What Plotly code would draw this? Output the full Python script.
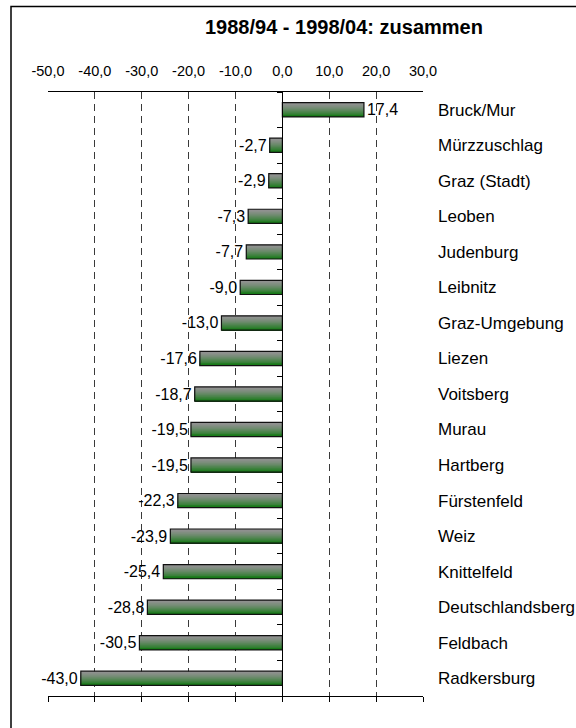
import plotly.graph_objects as go

categories = ["Bruck/Mur", "Mürzzuschlag", "Graz (Stadt)", "Leoben", "Judenburg",
              "Leibnitz", "Graz-Umgebung", "Liezen", "Voitsberg", "Murau", "Hartberg",
              "Fürstenfeld", "Weiz", "Knittelfeld", "Deutschlandsberg", "Feldbach",
              "Radkersburg"]
values = [17.4, -2.7, -2.9, -7.3, -7.7, -9.0, -13.0, -17.6, -18.7, -19.5, -19.5,
          -22.3, -23.9, -25.4, -28.8, -30.5, -43.0]
tick_values = [-50, -40, -30, -20, -10, 0, 10, 20, 30]
tick_labels = ["-50,0", "-40,0", "-30,0", "-20,0", "-10,0", "0,0", "10,0", "20,0", "30,0"]
chart_title = "1988/94 - 1998/04: zusammen"

W, H = 576, 728
L, R, T, B = 48, 423, 92, 696
FONT = "Liberation Sans, Arial, sans-serif"


def px_x(p):
    return (p - L) / (R - L)


def px_y(p):
    return (B - p) / (B - T)


n = len(categories)
labels = [f"{v:.1f}".replace(".", ",") for v in values]

fig = go.Figure()

# gradient fill: overlapping strips from gray (top) to green (bottom)
bar_w = 0.40
n_strips = 16
c_top = (146, 146, 146)
c_bot = (24, 122, 24)
for k in range(n_strips):
    t = (k / (n_strips - 1)) ** 1.4
    col = tuple(round(c_top[i] + (c_bot[i] - c_top[i]) * t) for i in range(3))
    off = -bar_w / 2 + k * bar_w / n_strips
    fig.add_trace(go.Bar(
        x=values, y=categories, orientation="h",
        offset=off, width=bar_w / 2 - off,
        marker=dict(color=f"rgb{col}", line=dict(width=0)),
        showlegend=False, hoverinfo="skip",
    ))

# outline + labels
fig.add_trace(go.Bar(
    x=values, y=categories, orientation="h",
    offset=-bar_w / 2, width=bar_w,
    marker=dict(color="rgba(0,0,0,0)", line=dict(color="#111111", width=1.2)),
    text=labels, textposition="outside", constraintext="none", cliponaxis=False,
    textfont=dict(family=FONT, size=16, color="black"),
    showlegend=False, hoverinfo="skip",
))

# dummy traces for auxiliary axes
fig.add_trace(go.Scatter(x=[None] * n, y=categories, xaxis="x", yaxis="y2",
                         mode="markers", showlegend=False, hoverinfo="skip"))
fig.add_trace(go.Scatter(x=[None], y=[None], xaxis="x2", yaxis="y",
                         mode="markers", showlegend=False, hoverinfo="skip"))

yr = [n - 0.5, -0.5]

fig.update_layout(
    width=W, height=H,
    margin=dict(l=L, r=W - R, t=T, b=H - B, autoexpand=False),
    paper_bgcolor="white", plot_bgcolor="white",
    barmode="overlay",
    font=dict(family=FONT, color="black"),
    xaxis=dict(range=[-50, 30], tickvals=tick_values, showticklabels=False,
               ticks="outside", ticklen=5, tickcolor="black",
               showline=True, mirror=True, linecolor="black", linewidth=1,
               showgrid=True, gridcolor="#3a3a3a", gridwidth=1, griddash="7px,5px",
               zeroline=False),
    xaxis2=dict(overlaying="x", side="top", range=[-50, 30], tickvals=tick_values,
                ticktext=tick_labels, ticks="", showline=False, showgrid=False,
                zeroline=False, ticklabelstandoff=12,
                tickfont=dict(family=FONT, size=14.5, color="black")),
    yaxis=dict(type="category", categoryarray=categories, categoryorder="array",
               range=yr, side="right", showline=False, ticks="", showgrid=False,
               zeroline=False, ticklabelstandoff=14,
               tickfont=dict(family=FONT, size=17, color="black")),
    yaxis2=dict(type="category", categoryarray=categories, categoryorder="array",
                overlaying="y", anchor="free", position=px_x(L + (0 - (-50)) / 80 * (R - L)),
                range=yr, side="left", showline=True, linecolor="black", linewidth=1,
                ticks="outside", ticklen=5, tickcolor="black", tickson="boundaries",
                showticklabels=False, showgrid=False, zeroline=False),
    shapes=[dict(type="rect", xref="paper", yref="paper",
                 x0=px_x(11), x1=px_x(620), y0=px_y(760), y1=px_y(6.5),
                 line=dict(color="black", width=1.5), fillcolor="rgba(0,0,0,0)",
                 layer="below")],
    annotations=[dict(text=f"<b>{chart_title}</b>", xref="paper", yref="paper",
                      x=px_x(344), y=px_y(27), xanchor="center", yanchor="middle",
                      showarrow=False, font=dict(family=FONT, size=20, color="black"))],
)

fig.write_html("out.html",
               config={"displayModeBar": False},
               post_script="document.body.style.margin='0';"
                           "document.body.style.overflow='hidden';")
